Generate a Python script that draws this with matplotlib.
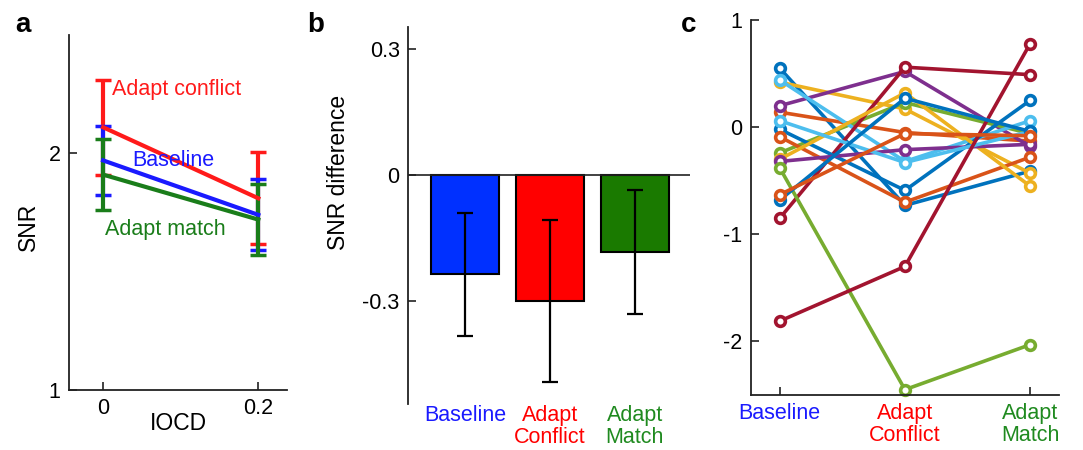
import numpy as np
import matplotlib; matplotlib.use("Agg")
import matplotlib.pyplot as plt

plt.rcParams["font.family"] = ["Liberation Sans", "DejaVu Sans"]

# ---- panel a: mean SNR vs IOCD ----
iocd = [0, 0.2]
snr_conflict = [2.11, 1.81]
err_conflict = [0.20, 0.195]
snr_baseline = [1.97, 1.74]
err_baseline = [0.145, 0.15]
snr_match = [1.91, 1.72]
err_match = [0.15, 0.15]

# ---- panel b: SNR difference ----
conds = ["Baseline", "Adapt\nConflict", "Adapt\nMatch"]
diff_mean = [-0.236, -0.300, -0.184]
diff_err = [0.146, 0.193, 0.147]

# ---- panel c: per-subject values ----
subj_baseline = [0.55, 0.14, 0.42, 0.20, -0.24, 0.44, -0.85, -0.02,
                 -0.09, -0.30, -0.32, -0.38, 0.06, -1.81, -0.68, -0.63]
subj_conflict = [-0.73, -0.05, 0.17, 0.52, 0.23, -0.32, 0.56, -0.59,
                 -0.70, 0.32, -0.21, -2.45, -0.33, -1.30, 0.27, -0.06]
subj_match = [-0.41, -0.13, -0.43, -0.18, -0.06, 0.06, 0.49, 0.25,
              -0.28, -0.55, -0.16, -2.03, -0.04, 0.78, -0.04, -0.08]

matlab_cols = ["#0072BD", "#D95319", "#EDB120", "#7E2F8E", "#77AC30", "#4DBEEE", "#A2142F"]
c_red, c_blue, c_green = "#ff1a1a", "#1a1aff", "#1a7d1a"
lbl_cols = ["#1a1aff", "#ff0000", "#1f8a1f"]
bar_cols = ["#0030ff", "#ff0000", "#1a7a00"]
spine_c = "#222222"

fig = plt.figure(figsize=(10.83, 4.5), dpi=100)

def style(ax, spines=("left", "bottom")):
    for s in ax.spines:
        ax.spines[s].set_visible(s in spines)
        ax.spines[s].set_color(spine_c)
        ax.spines[s].set_linewidth(1.3)
    ax.tick_params(direction="in", length=6, width=1.2, color=spine_c, labelsize=15.5, pad=6)

# a
ax = fig.add_axes([0.0637, 0.1333, 0.2013, 0.789])
style(ax)
for y, e, c in [(snr_conflict, err_conflict, c_red), (snr_baseline, err_baseline, c_blue),
                (snr_match, err_match, c_green)]:
    ax.errorbar(iocd, y, yerr=e, color=c, lw=3, elinewidth=3, capsize=6, capthick=2.5)
ax.set_xlim(-0.044, 0.237)
ax.set_ylim(1, 2.5)
ax.set_xticks([0, 0.2]); ax.set_xticklabels(["0", "0.2"])
ax.set_yticks([1, 2]); ax.set_yticklabels(["1", "2"])
ax.set_xlabel("IOCD", fontsize=16.5)
ax.xaxis.set_label_coords(0.5, -0.062)
ax.set_ylabel("SNR", fontsize=16.5)
ax.yaxis.set_label_coords(-0.133, 0.46)
ax.text(0.011, 2.27, "Adapt conflict", color=c_red, fontsize=15.5, va="center")
ax.text(0.037, 1.97, "Baseline", color=c_blue, fontsize=15.5, va="center")
ax.text(0.002, 1.68, "Adapt match", color=c_green, fontsize=15.5, va="center")

# b
ax = fig.add_axes([0.3767, 0.1022, 0.2604, 0.8378])
style(ax, spines=("left",))
xb = np.arange(1, 4)
ax.bar(xb, diff_mean, width=0.8, color=bar_cols, edgecolor="black", lw=1.5, zorder=2)
ax.errorbar(xb, diff_mean, yerr=diff_err, fmt="none", ecolor="black", elinewidth=1.6,
            capsize=6, capthick=1.6, zorder=3)
ax.axhline(0, color=spine_c, lw=1.2, zorder=4)
ax.set_xlim(0.33, 3.65)
ax.set_ylim(-0.545, 0.352)
ax.set_yticks([-0.3, 0, 0.3]); ax.set_yticklabels(["-0.3", "0", "0.3"])
ax.set_xticks(xb); ax.set_xticklabels(conds, linespacing=1.05)
ax.tick_params(axis="x", length=0, pad=1)
for t, c in zip(ax.get_xticklabels(), lbl_cols):
    t.set_color(c)
ax.set_ylabel("SNR difference", fontsize=16.5)
ax.yaxis.set_label_coords(-0.206, 0.615)

# c
ax = fig.add_axes([0.6934, 0.1222, 0.2844, 0.8333])
style(ax)
for i in range(len(subj_baseline)):
    ax.plot([1, 2, 3], [subj_baseline[i], subj_conflict[i], subj_match[i]],
            color=matlab_cols[i % 7], lw=2.6, marker="o", ms=7, mew=2.6, mfc="white",
            clip_on=False)
ax.set_xlim(0.77, 3.23)
ax.set_ylim(-2.5, 1)
ax.set_yticks([-2, -1, 0, 1]); ax.set_yticklabels(["-2", "-1", "0", "1"])
ax.set_xticks([1, 2, 3]); ax.set_xticklabels(conds, linespacing=1.05)
ax.tick_params(axis="x", pad=6)
for t, c in zip(ax.get_xticklabels(), lbl_cols):
    t.set_color(c)

fig.text(15 / 1083, 1 - 32 / 450, "a", fontsize=20, fontweight="bold")
fig.text(307 / 1083, 1 - 32 / 450, "b", fontsize=20, fontweight="bold")
fig.text(681 / 1083, 1 - 32 / 450, "c", fontsize=20, fontweight="bold")

fig.savefig("out.png", dpi=100)
